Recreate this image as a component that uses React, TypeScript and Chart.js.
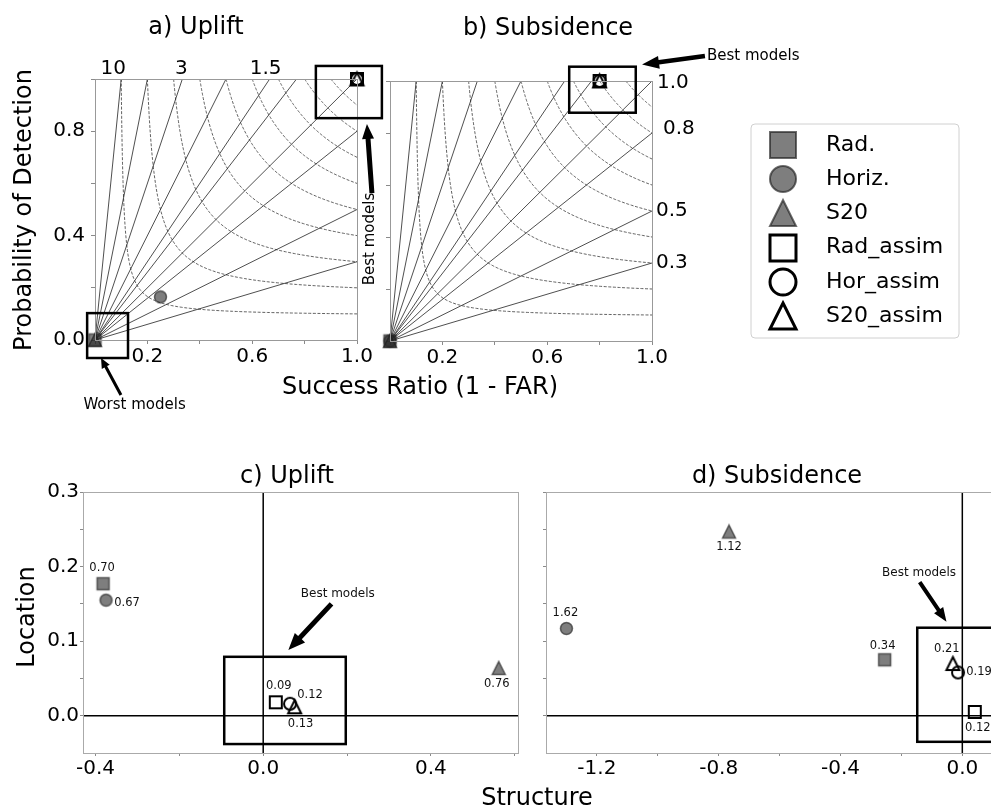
import React, { useEffect, useRef } from 'react';
import { Chart, registerables } from 'chart.js';

Chart.register(...registerables);

const FAMILY = '"DejaVu Sans", Verdana, sans-serif';
Chart.defaults.font.family = FAMILY;
Chart.defaults.color = '#000';

const PAGE_W = 991;
const PAGE_H = 808;

// ---------------------------------------------------------------- models
const MODEL_NAMES = ['Rad.', 'Horiz.', 'S20', 'Rad_assim', 'Hor_assim', 'S20_assim'];
const MODEL_SHAPES = ['square', 'circle', 'triangle', 'square', 'circle', 'triangle'];
const MODEL_OPEN = [false, false, false, true, true, true];

// ---------------------------------------------------------------- performance diagrams
const UPLIFT_SR = [0.0, 0.25, 0.0, 1.0, 1.0, 1.0];
const UPLIFT_POD = [0.0, 0.165, 0.0, 1.0, 1.0, 1.0];
const SUBSIDENCE_SR = [0.0, 0.0, 0.0, 0.8, 0.8, 0.8];
const SUBSIDENCE_POD = [0.0, 0.0, 0.0, 1.0, 1.0, 1.0];

// frequency-bias rays and critical-success-index isolines
const BIAS_LEVELS = [0.3, 0.5, 0.8, 1.0, 1.3, 1.5, 2, 3, 5, 10];
const CSI_LEVELS = [0.1, 0.2, 0.3, 0.4, 0.5, 0.6, 0.7, 0.8, 0.9];
const TOP_BIAS_LABELS = ['10', '3', '1.5'];
const RIGHT_BIAS_LABELS = ['1.0', '0.8', '0.5', '0.3'];

const PERF_TICKS = [0, 0.2, 0.4, 0.6, 0.8, 1.0];
const PERF_X_LABELED = [0.2, 0.6, 1.0];
const PERF_Y_LABELED = [0.0, 0.4, 0.8];

// ---------------------------------------------------------------- SAL diagrams
const UPLIFT_S = [-0.382, -0.375, 0.562, 0.03, 0.064, 0.075];
const UPLIFT_L = [0.177, 0.155, 0.064, 0.018, 0.016, 0.012];
const UPLIFT_A = ['0.70', '0.67', '0.76', '0.09', '0.12', '0.13'];

const SUBSIDENCE_S = [-0.255, -1.3, -0.766, 0.041, -0.014, -0.031];
const SUBSIDENCE_L = [0.075, 0.117, 0.247, 0.005, 0.058, 0.07];
const SUBSIDENCE_A = ['0.34', '1.62', '1.12', '0.12', '0.19', '0.21'];

const SAL_L_TICKS = [0, 0.05, 0.1, 0.15, 0.2, 0.25, 0.3];
const SAL_L_LABELED = [0, 0.1, 0.2, 0.3];
const UPLIFT_S_TICKS = [-0.4, -0.2, 0, 0.2, 0.4, 0.6];
const UPLIFT_S_LABELED = [-0.4, 0, 0.4];
const SUBSIDENCE_S_TICKS = [-1.2, -1.0, -0.8, -0.6, -0.4, -0.2, 0];
const SUBSIDENCE_S_LABELED = [-1.2, -0.8, -0.4, 0];

// pixel offsets of the score labels next to each marker
const UPLIFT_A_OFFSETS = [[-1, -16], [21, 3], [-2, 16], [3, -16], [20, -9], [6, 17]];
const SUBSIDENCE_A_OFFSETS = [[-2, -14], [-1, -15], [0, 15], [3, 16], [21, 0], [-6, -14]];

// ---------------------------------------------------------------- marker glyphs
const GRAY_FILL = 'rgba(40,40,40,0.6)';
const GRAY_EDGE = 'rgba(30,30,30,0.65)';

function makeMarker(shape: string, size: number, open: boolean, lw: number): HTMLCanvasElement {
  const d = Math.ceil(size + lw * 2 + 2);
  const c = document.createElement('canvas');
  c.width = d;
  c.height = d;
  const ctx = c.getContext('2d')!;
  const m = d / 2;
  const h = size / 2;
  ctx.beginPath();
  if (shape === 'square') ctx.rect(m - h, m - h, size, size);
  else if (shape === 'circle') ctx.arc(m, m, h, 0, Math.PI * 2);
  else {
    ctx.moveTo(m, m - h);
    ctx.lineTo(m + h, m + h);
    ctx.lineTo(m - h, m + h);
    ctx.closePath();
  }
  if (!open) {
    ctx.fillStyle = GRAY_FILL;
    ctx.fill();
  }
  ctx.lineWidth = lw;
  ctx.strokeStyle = open ? '#000' : GRAY_EDGE;
  ctx.stroke();
  return c;
}

const PLOT_MARKERS = MODEL_SHAPES.map((s, i) =>
  makeMarker(s, s === 'triangle' ? 13 : 12, MODEL_OPEN[i], MODEL_OPEN[i] ? 2 : 1.5)
);
const LEGEND_MARKERS = MODEL_SHAPES.map((s, i) =>
  makeMarker(s, 26, MODEL_OPEN[i], MODEL_OPEN[i] ? 3 : 2)
);

// ---------------------------------------------------------------- helpers
type Area = { left: number; top: number; right: number; bottom: number };
type Txt = {
  text: string;
  x: number;
  y: number;
  size: number;
  align?: CanvasTextAlign;
  baseline?: CanvasTextBaseline;
  rotate?: boolean;
  dx?: number;
  dy?: number;
  color?: string;
};
type Arrow = { from: [number, number]; to: [number, number]; shaft: number; head: number; headLen: number };
type Box = { x0: number; x1: number; y0: number; y1: number };
type Decor = {
  frame: string;
  zeroLines?: boolean;
  boxes?: Box[];
  arrows?: Arrow[];
  dataTexts?: Txt[];
  pixelTexts?: Txt[];
  legend?: boolean;
};

// fixed room reserved for tick marks and tick labels outside each plot area
const X_AXIS_H = 40;
const Y_AXIS_W = 80;

const fmt = (v: number) => (Math.abs(v) < 1e-9 ? 0 : v).toFixed(1);

function drawText(ctx: CanvasRenderingContext2D, t: Txt, x: number, y: number) {
  ctx.save();
  ctx.font = `${t.size}px ${FAMILY}`;
  ctx.fillStyle = t.color ?? '#000';
  ctx.textAlign = t.align ?? 'center';
  ctx.textBaseline = t.baseline ?? 'middle';
  ctx.translate(x + (t.dx ?? 0), y + (t.dy ?? 0));
  if (t.rotate) ctx.rotate(-Math.PI / 2);
  ctx.fillText(t.text, 0, 0);
  ctx.restore();
}

function drawArrow(ctx: CanvasRenderingContext2D, x1: number, y1: number, x2: number, y2: number, a: Arrow) {
  const ang = Math.atan2(y2 - y1, x2 - x1);
  const len = Math.hypot(x2 - x1, y2 - y1);
  ctx.save();
  ctx.translate(x1, y1);
  ctx.rotate(ang);
  ctx.beginPath();
  ctx.moveTo(0, -a.shaft / 2);
  ctx.lineTo(len - a.headLen, -a.shaft / 2);
  ctx.lineTo(len - a.headLen, -a.head / 2);
  ctx.lineTo(len, 0);
  ctx.lineTo(len - a.headLen, a.head / 2);
  ctx.lineTo(len - a.headLen, a.shaft / 2);
  ctx.lineTo(0, a.shaft / 2);
  ctx.closePath();
  ctx.fillStyle = '#000';
  ctx.fill();
  ctx.restore();
}

function drawLegend(ctx: CanvasRenderingContext2D) {
  const left = 751, top = 124, right = 959, bottom = 338, r = 4;
  ctx.save();
  ctx.beginPath();
  ctx.moveTo(left + r, top);
  ctx.arcTo(right, top, right, bottom, r);
  ctx.arcTo(right, bottom, left, bottom, r);
  ctx.arcTo(left, bottom, left, top, r);
  ctx.arcTo(left, top, right, top, r);
  ctx.closePath();
  ctx.fillStyle = 'rgba(255,255,255,0.9)';
  ctx.fill();
  ctx.strokeStyle = '#d0d0d0';
  ctx.lineWidth = 1;
  ctx.stroke();
  ctx.font = `22px ${FAMILY}`;
  ctx.fillStyle = '#000';
  ctx.textAlign = 'left';
  ctx.textBaseline = 'middle';
  MODEL_NAMES.forEach((name, i) => {
    const y = 145 + i * 34.2;
    const img = LEGEND_MARKERS[i];
    ctx.drawImage(img, Math.round(783 - img.width / 2), Math.round(y - img.height / 2));
    ctx.fillText(name, 826, y);
  });
  ctx.restore();
}

function decorPlugin(d: Decor) {
  return {
    id: 'decor',
    beforeDatasetsDraw(chart: any) {
      const { ctx, chartArea: a, scales } = chart;
      if (!d.zeroLines) return;
      const x0 = scales.x.getPixelForValue(0);
      const y0 = scales.y.getPixelForValue(0);
      ctx.save();
      ctx.strokeStyle = '#000';
      ctx.lineWidth = 1.5;
      ctx.beginPath();
      ctx.moveTo(a.left, y0);
      ctx.lineTo(a.right, y0);
      ctx.moveTo(x0, a.top);
      ctx.lineTo(x0, a.bottom);
      ctx.stroke();
      ctx.restore();
    },
    afterDatasetsDraw(chart: any) {
      const { ctx, chartArea: a, scales } = chart;
      const px = (v: number) => scales.x.getPixelForValue(v);
      const py = (v: number) => scales.y.getPixelForValue(v);
      ctx.save();
      ctx.strokeStyle = d.frame;
      ctx.lineWidth = 1;
      ctx.strokeRect(Math.round(a.left) + 0.5, Math.round(a.top) + 0.5, Math.round(a.right - a.left), Math.round(a.bottom - a.top));
      ctx.strokeStyle = '#000';
      ctx.lineWidth = 2.5;
      (d.boxes ?? []).forEach((b) => {
        const x0 = px(b.x0), x1 = px(b.x1), y0 = py(b.y0), y1 = py(b.y1);
        ctx.strokeRect(x0, y1, x1 - x0, y0 - y1);
      });
      ctx.restore();
      (d.arrows ?? []).forEach((ar) => drawArrow(ctx, px(ar.from[0]), py(ar.from[1]), px(ar.to[0]), py(ar.to[1]), ar));
      (d.dataTexts ?? []).forEach((t) => drawText(ctx, t, px(t.x), py(t.y)));
      (d.pixelTexts ?? []).forEach((t) => drawText(ctx, t, t.x, t.y));
      if (d.legend) drawLegend(ctx);
    },
  };
}

function axis(o: { min: number; max: number; ticks: number[]; labeled: number[]; tickLen: number; pad: number }) {
  return {
    type: 'linear',
    min: o.min,
    max: o.max,
    bounds: 'data',
    afterBuildTicks: (s: any) => {
      s.ticks = o.ticks.map((v) => ({ value: v }));
    },
    afterFit: (s: any) => {
      if (s.isHorizontal()) s.height = X_AXIS_H;
      else s.width = Y_AXIS_W;
    },
    grid: { drawOnChartArea: false, drawTicks: true, tickLength: o.tickLen, color: '#8a8a8a', lineWidth: 1 },
    border: { display: false },
    ticks: {
      autoSkip: false,
      maxRotation: 0,
      minRotation: 0,
      padding: o.pad,
      font: { size: 20 },
      color: '#000',
      callback: (v: number) => (o.labeled.some((l) => Math.abs(l - v) < 1e-9) ? fmt(v) : ''),
    },
  };
}

function modelDatasets(xs: number[], ys: number[]) {
  return MODEL_NAMES.map((name, i) => ({
    label: name,
    data: [{ x: xs[i], y: ys[i] }],
    pointStyle: PLOT_MARKERS[i],
    pointRadius: 7,
    pointHoverRadius: 7,
    clip: false,
    order: 10 - i,
  }));
}

// isoline of constant CSI: 1/CSI = 1/SR + 1/POD - 1
function csiCurve(csi: number) {
  const pts: { x: number; y: number }[] = [];
  const n = 160;
  for (let k = 0; k <= n; k++) {
    const sr = csi + (1 - csi) * (k / n) ** 2;
    pts.push({ x: sr, y: 1 / (1 / csi + 1 - 1 / sr) });
  }
  return pts;
}

// ray of constant frequency bias: POD = bias * SR
const biasRay = (b: number) => [{ x: 0, y: 0 }, b >= 1 ? { x: 1 / b, y: 1 } : { x: 1, y: b }];

function padding(area: Area, w: number) {
  return {
    left: area.left - Y_AXIS_W,
    top: area.top,
    right: w - area.right,
    bottom: PAGE_H - area.bottom - X_AXIS_H,
  };
}

function baseOptions(area: Area, w: number, scales: any) {
  return {
    responsive: false,
    animation: false,
    devicePixelRatio: 1,
    events: [],
    layout: { padding: padding(area, w) },
    plugins: { legend: { display: false }, tooltip: { enabled: false }, title: { display: false } },
    scales,
  };
}

function perfConfig(sr: number[], pod: number[], area: Area, yLabeled: number[], decor: Decor) {
  const csi = CSI_LEVELS.map((c) => ({
    data: csiCurve(c),
    showLine: true,
    pointRadius: 0,
    borderColor: '#3a3a3a',
    borderWidth: 0.8,
    borderDash: [3, 1.6],
    tension: 0,
    order: 100,
  }));
  const bias = BIAS_LEVELS.map((b) => ({
    data: biasRay(b),
    showLine: true,
    pointRadius: 0,
    borderColor: '#222',
    borderWidth: 0.8,
    order: 90,
  }));
  return {
    type: 'scatter',
    data: { datasets: [...modelDatasets(sr, pod), ...bias, ...csi] },
    options: baseOptions(area, PAGE_W, {
      x: axis({ min: 0, max: 1, ticks: PERF_TICKS, labeled: PERF_X_LABELED, tickLen: 4, pad: 1 }),
      y: axis({ min: 0, max: 1, ticks: PERF_TICKS, labeled: yLabeled, tickLen: 4, pad: 6 }),
    }),
    plugins: [decorPlugin(decor)],
  };
}

function salConfig(
  s: number[], l: number[], scores: string[], offsets: number[][], area: Area, w: number,
  sRange: [number, number], sTicks: number[], sLabeled: number[], lLabeled: number[], decor: Decor
) {
  const scoreTexts: Txt[] = scores.map((t, i) => ({
    text: t, x: s[i], y: l[i], size: 11.5, dx: offsets[i][0], dy: offsets[i][1], color: '#111',
  }));
  return {
    type: 'scatter',
    data: { datasets: modelDatasets(s, l) },
    options: baseOptions(area, w, {
      x: axis({ min: sRange[0], max: sRange[1], ticks: sTicks, labeled: sLabeled, tickLen: 3, pad: 1 }),
      y: axis({ min: -0.05, max: 0.3, ticks: SAL_L_TICKS, labeled: lLabeled, tickLen: 3, pad: 1 }),
    }),
    plugins: [decorPlugin({ ...decor, dataTexts: [...(decor.dataTexts ?? []), ...scoreTexts] })],
  };
}

// ---------------------------------------------------------------- panels
const AREA_A: Area = { left: 95, top: 79, right: 357, bottom: 340 };
const AREA_B: Area = { left: 390, top: 81, right: 652, bottom: 341 };
const AREA_C: Area = { left: 83, top: 492, right: 518, bottom: 753 };
const AREA_D: Area = { left: 546, top: 492, right: 1008, bottom: 753 };
const D_CANVAS_W = 1100;

const TOP_LABEL_DX = [-8, -1, -4];
const RIGHT_LABEL_OFFSETS = [[5, 2], [11, -4], [4, 0], [4, 0]];

const buildA = () =>
  perfConfig(UPLIFT_SR, UPLIFT_POD, AREA_A, PERF_Y_LABELED, {
    frame: '#999',
    boxes: [
      { x0: -0.03, x1: 0.126, y0: -0.069, y1: 0.103 },
      { x0: 0.843, x1: 1.095, y0: 0.85, y1: 1.05 },
    ],
    arrows: [
      { from: [1.057, 0.563], to: [1.038, 0.828], shaft: 5, head: 12, headLen: 15 },
      { from: [0.099, -0.211], to: [0.023, -0.069], shaft: 3, head: 9, headLen: 10 },
    ],
    dataTexts: [
      ...TOP_BIAS_LABELS.map((t, i) => ({
        text: t, x: 1 / parseFloat(t), y: 1, size: 20, baseline: 'alphabetic' as CanvasTextBaseline, dx: TOP_LABEL_DX[i], dy: -5,
      })),
      { text: 'Worst models', x: 0.151, y: -0.249, size: 15 },
      { text: 'Best models', x: 1.05, y: 0.387, size: 15, rotate: true },
    ],
    pixelTexts: [
      { text: 'a) Uplift', x: 196, y: 34, size: 24, baseline: 'alphabetic' },
      { text: 'Probability of Detection', x: 31, y: 210, size: 24, baseline: 'alphabetic', rotate: true },
      { text: 'Success Ratio (1 - FAR)', x: 420, y: 394, size: 24, baseline: 'alphabetic' },
    ],
  });

const buildB = () =>
  perfConfig(SUBSIDENCE_SR, SUBSIDENCE_POD, AREA_B, [], {
    frame: '#999',
    boxes: [{ x0: 0.684, x1: 0.938, y0: 0.878, y1: 1.055 }],
    arrows: [{ from: [1.202, 1.096], to: [0.962, 1.063], shaft: 4.5, head: 13, headLen: 17 }],
    dataTexts: [
      ...RIGHT_BIAS_LABELS.map((t, i) => ({
        text: t, x: 1, y: parseFloat(t), size: 20, align: 'left' as CanvasTextAlign,
        dx: RIGHT_LABEL_OFFSETS[i][0], dy: RIGHT_LABEL_OFFSETS[i][1],
      })),
      { text: 'Best models', x: 1.21, y: 1.096, size: 15, align: 'left' },
    ],
    pixelTexts: [{ text: 'b) Subsidence', x: 548, y: 35, size: 24, baseline: 'alphabetic' }],
    legend: true,
  });

const buildC = () =>
  salConfig(UPLIFT_S, UPLIFT_L, UPLIFT_A, UPLIFT_A_OFFSETS, AREA_C, PAGE_W, [-0.43, 0.608],
    UPLIFT_S_TICKS, UPLIFT_S_LABELED, SAL_L_LABELED, {
      frame: '#aaa',
      zeroLines: true,
      boxes: [{ x0: -0.093, x1: 0.197, y0: -0.038, y1: 0.079 }],
      arrows: [{ from: [0.163, 0.15], to: [0.06, 0.088], shaft: 5, head: 14, headLen: 17 }],
      dataTexts: [{ text: 'Best models', x: 0.178, y: 0.164, size: 12, color: '#111' }],
      pixelTexts: [
        { text: 'c) Uplift', x: 287, y: 483, size: 24, baseline: 'alphabetic' },
        { text: 'Location', x: 34, y: 617, size: 24, baseline: 'alphabetic', rotate: true },
        { text: 'Structure', x: 537, y: 805, size: 24, baseline: 'alphabetic' },
      ],
    });

const buildD = () =>
  salConfig(SUBSIDENCE_S, SUBSIDENCE_L, SUBSIDENCE_A, SUBSIDENCE_A_OFFSETS, AREA_D, D_CANVAS_W, [-1.367, 0.15],
    SUBSIDENCE_S_TICKS, SUBSIDENCE_S_LABELED, [], {
      frame: '#aaa',
      zeroLines: true,
      boxes: [{ x0: -0.148, x1: 0.2, y0: -0.035, y1: 0.118 }],
      arrows: [{ from: [-0.14, 0.179], to: [-0.052, 0.126], shaft: 4, head: 11, headLen: 14 }],
      dataTexts: [{ text: 'Best models', x: -0.142, y: 0.192, size: 12, color: '#111' }],
      pixelTexts: [{ text: 'd) Subsidence', x: 777, y: 483, size: 24, baseline: 'alphabetic' }],
    });

function ChartCanvas({ width, build }: { width: number; build: () => any }) {
  const ref = useRef<HTMLCanvasElement>(null);
  useEffect(() => {
    const chart = new Chart(ref.current!, build());
    return () => chart.destroy();
  }, [build]);
  return (
    <canvas
      ref={ref}
      width={width}
      height={PAGE_H}
      style={{ position: 'absolute', left: 0, top: 0, width, height: PAGE_H }}
    />
  );
}

export default function App() {
  return (
    <div
      style={{
        position: 'absolute',
        left: 0,
        top: 0,
        width: PAGE_W,
        height: PAGE_H,
        overflow: 'hidden',
        background: '#fff',
      }}
    >
      <ChartCanvas width={PAGE_W} build={buildA} />
      <ChartCanvas width={PAGE_W} build={buildB} />
      <ChartCanvas width={PAGE_W} build={buildC} />
      <ChartCanvas width={D_CANVAS_W} build={buildD} />
    </div>
  );
}
